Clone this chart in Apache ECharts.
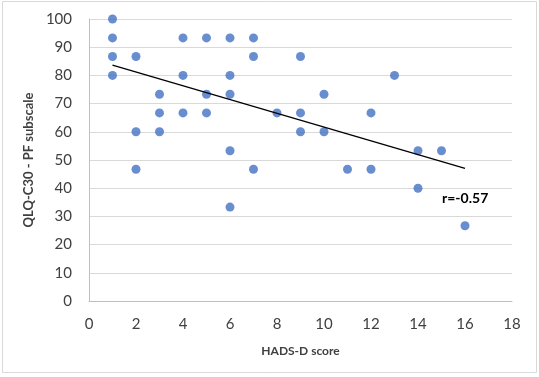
<!DOCTYPE html>
<html>
<head>
<meta charset="utf-8">
<script src="https://cdn.jsdelivr.net/npm/echarts@6/dist/echarts.min.js"></script>
<style>
  html, body { margin: 0; padding: 0; background: #fff; }
  #chart { width: 539px; height: 377px; }
</style>
</head>
<body>
<div id="chart"></div>
<script>
// HADS-D score (x) vs QLQ-C30 PF subscale (y)
const hadsScores = [1, 1, 1, 1, 2, 2, 2, 3, 3, 3, 4, 4, 4, 5, 5, 5, 6, 6, 6, 6, 6, 7, 7, 7, 8, 9, 9, 9, 10, 10, 11, 12, 12, 13, 14, 14, 15, 16]
const pfScores = [100, 93.3, 86.7, 80, 86.7, 60, 46.7, 73.3, 66.7, 60, 93.3, 80, 66.7, 93.3, 73.3, 66.7, 93.3, 80, 73.3, 53.3, 33.3, 93.3, 86.7, 46.7, 66.7, 86.7, 66.7, 60, 73.3, 60, 46.7, 66.7, 46.7, 80, 53.3, 40, 53.3, 26.7]

// trend line endpoints
const trendX = [1, 16]
const trendY = [83.6, 47.0]

const rLabel = 'r=-0.57'

const fontFamily = 'Lato, "Open Sans", sans-serif'
const textColor = '#404040'

const chart = echarts.init(document.getElementById('chart'))

const option = {
  animation: false,
  backgroundColor: '#fff',
  grid: { left: 89, right: 27, top: 19, bottom: 76 },
  xAxis: {
    type: 'value',
    min: 0,
    max: 18,
    interval: 2,
    name: 'HADS-D score',
    nameLocation: 'middle',
    nameGap: 44,
    nameTextStyle: { fontFamily, fontSize: 12, fontWeight: 'bold', color: textColor },
    axisLine: { show: true, lineStyle: { color: '#bfbfbf', width: 1 } },
    axisTick: { show: false },
    axisLabel: { fontFamily, fontSize: 15, color: textColor, margin: 16 },
    splitLine: { show: false }
  },
  yAxis: {
    type: 'value',
    min: 0,
    max: 100,
    interval: 10,
    name: 'QLQ-C30 - PF subscale',
    nameLocation: 'middle',
    nameGap: 53,
    nameTextStyle: { fontFamily, fontSize: 13, fontWeight: 'bold', color: textColor },
    axisLine: { show: true, lineStyle: { color: '#bfbfbf', width: 1 } },
    axisTick: { show: false },
    axisLabel: { fontFamily, fontSize: 15, color: textColor, margin: 17 },
    splitLine: { lineStyle: { color: '#d9d9d9', width: 1 } }
  },
  series: [
    {
      type: 'scatter',
      data: hadsScores.map((x, i) => [x, pfScores[i]]),
      symbol: 'circle',
      symbolSize: 9,
      itemStyle: { color: '#4472c4' },
      z: 3
    },
    {
      type: 'line',
      data: trendX.map((x, i) => [x, trendY[i]]),
      showSymbol: false,
      symbol: 'none',
      lineStyle: { color: '#000', width: 1.3 },
      z: 4
    }
  ],
  graphic: [
    {
      type: 'rect',
      shape: { x: 2.5, y: 1.5, width: 534, height: 371 },
      style: { fill: null, stroke: '#d9d9d9', lineWidth: 1 },
      silent: true
    },
    {
      type: 'text',
      left: 442,
      top: 191,
      style: { text: rLabel, fontFamily, fontSize: 14, fontWeight: 'bold', fill: '#000' }
    }
  ]
}

chart.setOption(option)
</script>
</body>
</html>
